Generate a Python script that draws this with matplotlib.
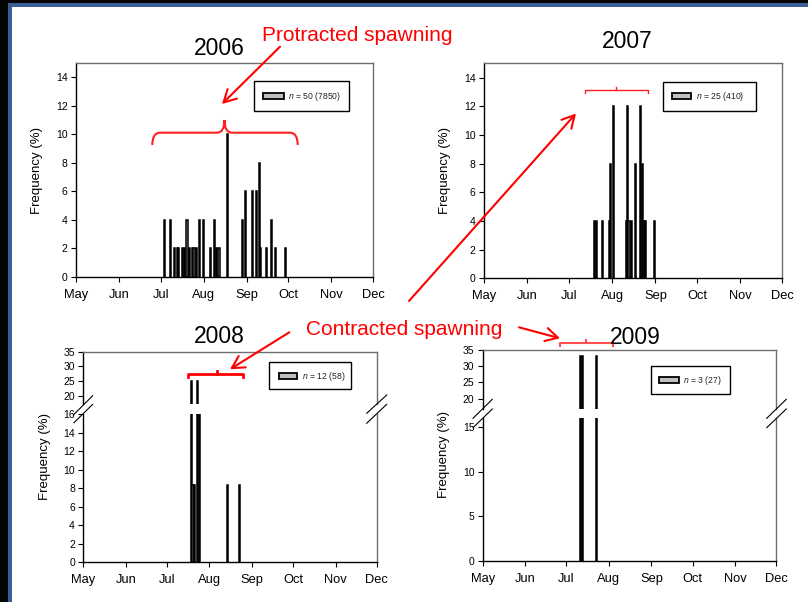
import matplotlib
matplotlib.use('Agg')
import matplotlib.pyplot as plt
from matplotlib.patches import Rectangle, PathPatch
from matplotlib.path import Path

plt.rcParams['font.family'] = ['Liberation Sans', 'DejaVu Sans']
plt.rcParams['mathtext.fontset'] = 'custom'
plt.rcParams['mathtext.rm'] = 'Liberation Sans'
plt.rcParams['mathtext.it'] = 'Liberation Sans:italic'

# x axis: days since 1 May, ticks at the first of each month
months = ['May', 'Jun', 'Jul', 'Aug', 'Sep', 'Oct', 'Nov', 'Dec']
month_start = [0, 31, 61, 92, 123, 153, 184, 214]

# 2006, n = 50 (7850)
day_2006 = [64, 68, 71, 73, 74, 77, 78, 80, 82, 84, 85, 87, 89, 92, 97,
            100, 101, 103, 109, 120, 122, 127, 130, 132, 133, 137, 141, 144, 151]
freq_2006 = [4, 4, 2, 2, 2, 2, 2, 4, 2, 2, 2, 2, 4, 4, 2,
             4, 2, 2, 10, 4, 6, 6, 6, 8, 2, 2, 4, 2, 2]

# 2007, n = 25 (410)
day_2007 = [79, 81, 85, 90, 91, 93, 102, 103, 104, 106, 109, 112, 114, 115, 116, 122]
freq_2007 = [4, 4, 4, 4, 8, 12, 4, 12, 4, 4, 8, 12, 8, 4, 4, 4]

# 2008, n = 12 (58)
day_2008 = [79, 80, 81, 83, 85, 105, 114]
freq_2008 = [25, 8.3, 8.3, 25, 16.7, 8.3, 8.3]

# 2009, n = 3 (27)
day_2009 = [71, 73, 83]
freq_2009 = [33.3, 33.3, 33.3]

legend_2006 = r'$\mathit{n}$ = 50 (7850)'
legend_2007 = r'$\mathit{n}$ = 25 (410)'
legend_2008 = r'$\mathit{n}$ = 12 (58)'
legend_2009 = r'$\mathit{n}$ = 3 (27)'

W, H = 808, 602
fig = plt.figure(figsize=(W / 100, H / 100), dpi=100)
fig.patch.set_facecolor('white')

BAR_FC = '#c0c0c0'
RIM = '#6e6e6e'


def px_axes(l, t, r, b):
    return fig.add_axes([l / W, 1 - b / H, (r - l) / W, (b - t) / H])


def style(ax, show_x=True, top=True, bottom=True):
    ax.spines['left'].set_color('black')
    ax.spines['bottom'].set_color('black')
    ax.spines['top'].set_color(RIM)
    ax.spines['right'].set_color(RIM)
    for s in ax.spines.values():
        s.set_linewidth(1.0)
    ax.spines['top'].set_visible(top)
    ax.spines['bottom'].set_visible(bottom)
    ax.set_xlim(month_start[0], month_start[-1])
    ax.tick_params(axis='y', direction='out', length=3.5, width=0.8,
                   labelsize=7.5, pad=2.5, right=False)
    if show_x:
        ax.set_xticks(month_start)
        ax.set_xticklabels(months)
        ax.tick_params(axis='x', direction='out', length=3.5, width=0.8,
                       labelsize=9.3, pad=5, top=False)
    else:
        ax.set_xticks([])


def bars(ax, days, freq):
    ax.bar(days, freq, width=0.8, color=BAR_FC, edgecolor='black',
           linewidth=1.1, align='center')


# top row
ax06 = px_axes(76, 63, 373, 277)
bars(ax06, day_2006, freq_2006)
style(ax06)
ax06.set_ylim(0, 15)
ax06.set_yticks(range(0, 15, 2))

ax07 = px_axes(484, 63.3, 782.3, 278.3)
bars(ax07, day_2007, freq_2007)
style(ax07)
ax07.set_ylim(0, 15)
ax07.set_yticks(range(0, 15, 2))

# bottom row: broken y axes
ax08h = px_axes(83.3, 351.7, 376.7, 404.3)
ax08l = px_axes(83.3, 414, 376.7, 562.3)
for a in (ax08h, ax08l):
    bars(a, day_2008, freq_2008)
style(ax08h, show_x=False, bottom=False)
style(ax08l, top=False)
ax08h.set_ylim(17.1, 35)
ax08h.set_yticks([20, 25, 30, 35])
ax08l.set_ylim(0, 16)
ax08l.set_yticks(range(0, 17, 2))

ax09h = px_axes(482.7, 350, 776.3, 409)
ax09l = px_axes(482.7, 418.3, 776.3, 561)
for a in (ax09h, ax09l):
    bars(a, day_2009, freq_2009)
style(ax09h, show_x=False, bottom=False)
style(ax09l, top=False)
ax09h.set_ylim(16.8, 35)
ax09h.set_yticks([20, 25, 30, 35])
ax09l.set_ylim(0, 16)
ax09l.set_yticks([0, 5, 10, 15])

# overlay in pixel coordinates for annotations
ov = fig.add_axes([0, 0, 1, 1], zorder=10)
ov.set_xlim(0, W)
ov.set_ylim(H, 0)
ov.axis('off')
ov.patch.set_alpha(0)

# slide frame
ov.add_patch(Rectangle((0, 0), 8, H, color='#050505', lw=0))
ov.add_patch(Rectangle((0, 0), W, 3, color='#050505', lw=0))
ov.add_patch(Rectangle((8, 3), 3.5, H, color='#3a5f95', lw=0))
ov.add_patch(Rectangle((8, 3), W, 3.5, color='#3a5f95', lw=0))

# titles
for txt, x, y in [('2006', 219, 55), ('2007', 627, 48.3),
                  ('2008', 219.7, 343.3), ('2009', 635, 344)]:
    ov.text(x, y, txt, fontsize=16.5, ha='center', va='baseline')

# y labels
for x, y in [(37, 170), (445, 170), (45, 457), (444, 455)]:
    ov.text(x, y, 'Frequency (%)', fontsize=9.5, rotation=90,
            ha='center', va='center')

# legends
for label, box, patch, tx in [
        (legend_2006, (254.3, 81, 349.3, 110.7), (263.3, 93.3, 284, 99), 288),
        (legend_2007, (662.7, 81.7, 755.7, 111), (672.3, 93.3, 691.3, 99.3), 696),
        (legend_2008, (269.3, 361.7, 350.7, 389.3), (279.3, 372.7, 297.3, 378.7), 301.5),
        (legend_2009, (650.7, 365.7, 729.7, 394.3), (659.3, 377.3, 679.3, 383.3), 683)]:
    ov.add_patch(Rectangle((box[0], box[1]), box[2] - box[0], box[3] - box[1],
                           facecolor='white', edgecolor='black', lw=1.0))
    ov.add_patch(Rectangle((patch[0], patch[1]), patch[2] - patch[0],
                           patch[3] - patch[1], facecolor=BAR_FC,
                           edgecolor='black', lw=1.3))
    ov.text(tx, (patch[1] + patch[3]) / 2 + 0.5, label, fontsize=6.2,
            ha='left', va='center', color='#222222')

# break marks
for (x0, y0, x1, y1) in [
        (73.3, 415, 92.7, 395.7), (74, 422.7, 92.7, 404.3),
        (366.7, 413.3, 386.7, 395), (366.7, 423.3, 386.7, 404.3),
        (473, 418.3, 492.3, 399.3), (473, 427.7, 492.3, 409),
        (766.7, 418.3, 786.3, 399.3), (766.7, 427.7, 786.3, 409)]:
    ov.plot([x0, x1], [y0, y1], color='black', lw=0.8)

# red annotations
RED = '#ff0000'
ov.text(261.5, 41, 'Protracted spawning', color=RED, fontsize=15,
        ha='left', va='baseline')
ov.text(306.5, 335, 'Contracted spawning', color=RED, fontsize=15,
        ha='left', va='baseline')

aprops = dict(arrowstyle='->,head_length=0.55,head_width=0.3', color=RED,
              lw=1.5, mutation_scale=16, shrinkA=0, shrinkB=0)
for head, tail in [((222, 104), (280, 46.7)),
                   ((576, 113.5), (409, 301)),
                   ((230, 369.3), (289.3, 332.3)),
                   ((560, 338.3), (519, 327.3))]:
    ov.annotate('', xy=head, xytext=tail, arrowprops=aprops)

# curly brace over 2006
verts = [(152.3, 145), (152.3, 132.7), (160, 132.7), (217, 132.7),
         (224.5, 132.7), (224.5, 120), (224.5, 132.7), (232, 132.7),
         (290, 132.7), (297.7, 132.7), (297.7, 145)]
codes = [Path.MOVETO, Path.CURVE3, Path.CURVE3, Path.LINETO,
         Path.CURVE3, Path.CURVE3, Path.CURVE3, Path.CURVE3,
         Path.LINETO, Path.CURVE3, Path.CURVE3]
ov.add_patch(PathPatch(Path(verts, codes), facecolor='none',
                       edgecolor='#ff2020', lw=1.5))

# small brackets over the other years
for (xl, xr, xm, y, lw, col) in [(585.3, 647.7, 616.3, 90, 1.0, '#ff2020'),
                                 (188.3, 242.7, 216.7, 374, 2.0, RED),
                                 (559.7, 613, 586.3, 343.3, 1.5, '#ff5050')]:
    ov.plot([xl, xl, xr, xr], [y + 3, y, y, y + 3], color=col, lw=lw)
    ov.plot([xm, xm], [y, y - 3], color=col, lw=lw)

fig.savefig('out.png', dpi=100)
